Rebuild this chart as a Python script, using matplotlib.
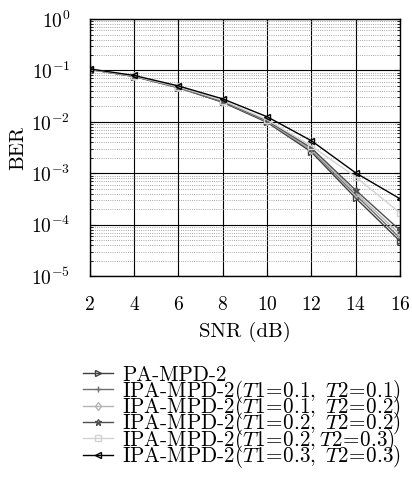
import matplotlib
matplotlib.use('Agg')
import matplotlib.pyplot as plt
import numpy as np

plt.rcParams['font.family'] = 'serif'
plt.rcParams['font.serif'] = ['cmr10']
plt.rcParams['mathtext.fontset'] = 'cm'
plt.rcParams['axes.formatter.use_mathtext'] = True

# data
snr = [2, 4, 6, 8, 10, 12, 14, 16]
ber_pa = [0.105, 0.076, 0.046, 0.024, 0.0098, 0.0026, 0.00033, 0.000048]
ber_11 = [0.105, 0.077, 0.047, 0.025, 0.0102, 0.0028, 0.00038, 0.000055]
ber_12 = [0.105, 0.077, 0.047, 0.025, 0.0104, 0.0029, 0.00042, 0.000065]
ber_22 = [0.105, 0.077, 0.047, 0.025, 0.0106, 0.0031, 0.00047, 0.000078]
ber_23 = [0.105, 0.078, 0.048, 0.026, 0.0110, 0.0034, 0.00085, 0.00017]
ber_33 = [0.107, 0.080, 0.050, 0.028, 0.0126, 0.0043, 0.00102, 0.00032]

labels = ['PA-MPD-2',
          r'IPA-MPD-2$($$T1\!=\!0.1,\ T2\!=\!0.1)$',
          r'IPA-MPD-2$($$T1\!=\!0.1,\ T2\!=\!0.2)$',
          r'IPA-MPD-2$($$T1\!=\!0.2,\ T2\!=\!0.2)$',
          r'IPA-MPD-2$($$T1\!=\!0.2,T2\!=\!0.3)$',
          r'IPA-MPD-2$($$T1\!=\!0.3,\ T2\!=\!0.3)$']
series = [ber_pa, ber_11, ber_12, ber_22, ber_23, ber_33]
colors = ['#404040', '#707070', '#b4b4b4', '#505050', '#d2d2d2', '#000000']
markers = ['>', '+', 'd', '*', 's', '<']

fig = plt.figure(figsize=(4.12, 4.88), dpi=100)
ax = fig.add_axes([0.218, 0.434, 0.753, 0.527])

for y, lab, c, m in zip(series, labels, colors, markers):
    ax.semilogy(snr, y, color=c, marker=m, markersize=4.5, markerfacecolor='none',
                markeredgecolor=c, linewidth=1.0, label=lab)

ax.set_xlim(2, 16)
ax.set_ylim(1e-5, 1)
ax.set_xticks(snr)
ax.grid(True, which='major', color='black', linewidth=0.8, linestyle='-')
ax.grid(True, which='minor', axis='y', color='#888888', linewidth=0.6, linestyle=':')
ax.tick_params(which='both', direction='in', top=True, right=True, labelsize=14)
ax.tick_params(axis='x', pad=14)
ax.tick_params(axis='y', pad=14)
ax.tick_params(which='major', length=4)
ax.tick_params(which='minor', length=2)
ax.set_xlabel('SNR (dB)', fontsize=15, labelpad=6)
ax.set_ylabel('BER', fontsize=15, labelpad=3)
for s in ax.spines.values():
    s.set_linewidth(1.0)

# one legend per row so the rows are evenly spaced
handles, labs = ax.get_legend_handles_labels()
row_top = 375 / 488
row_step = 16.3 / 488
for i, (h, l) in enumerate(zip(handles, labs)):
    fig.legend([h], [l], loc='center left',
               bbox_to_anchor=(0.2015, 1 - row_top - i * row_step),
               frameon=False, fontsize=15.2, handlelength=1.42,
               handletextpad=0.43, borderpad=0, borderaxespad=0)

fig.savefig('out.png', dpi=100)
